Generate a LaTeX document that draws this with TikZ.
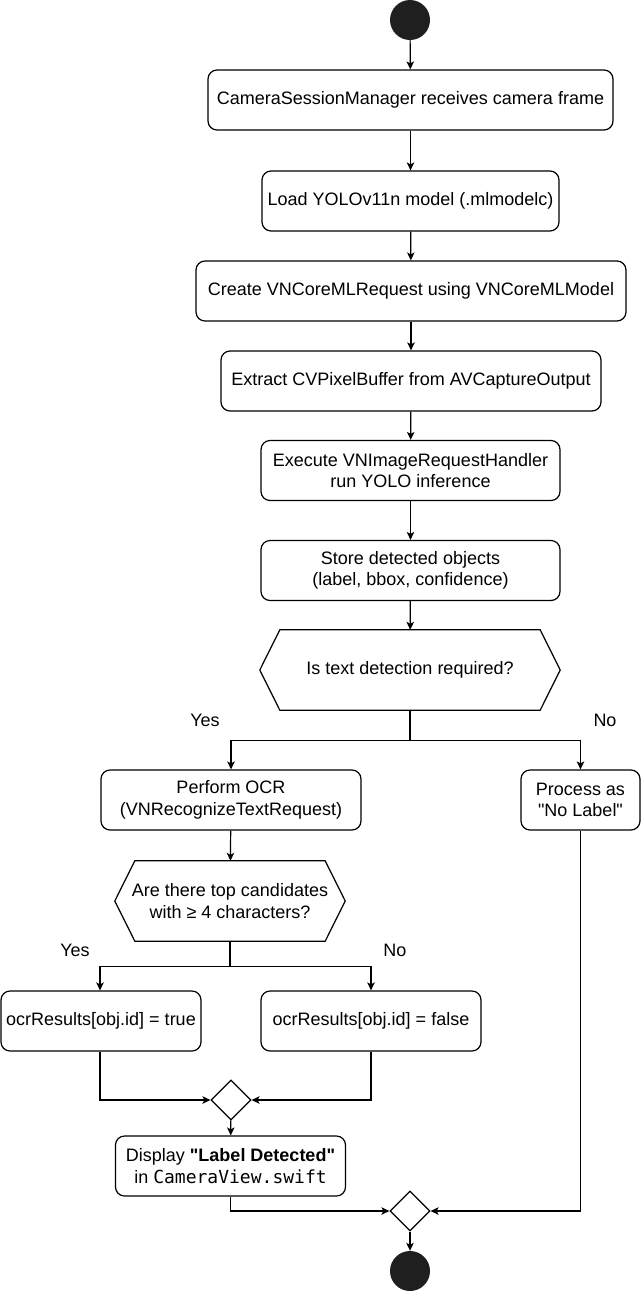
\documentclass[tikz,border=0pt]{standalone}
\usepackage{fontspec}
\setmainfont{Liberation Sans}[Ligatures=TeXOff]
\setmonofont{DejaVu Sans Mono}
\usetikzlibrary{shapes.geometric,arrows.meta}

\begin{document}
\begin{tikzpicture}[x=1pt,y=-1pt,
    every node/.style={font=\fontsize{18}{21.6}\selectfont},
    action/.style={draw, line width=1.2pt, rounded corners=9pt, minimum height=60pt, align=center, inner sep=2pt},
    question/.style={rectangle, minimum height=80pt, align=center, inner sep=2pt},
    merge/.style={draw, diamond, line width=1.2pt, minimum size=40pt, inner sep=0pt},
    terminal/.style={circle, fill=black!88, minimum size=40pt, inner sep=0pt},
    flow/.style={line width=1.2pt, -{Stealth[length=8pt,width=7.5pt,inset=2pt]}},
    wire/.style={line width=1.2pt}]

    % Fix the page to the size of the reference
    \useasboundingbox (0,0) rectangle (641,1291);

    % Start of the activity
    \node[terminal] (start) at (410,20) {};

    % Main column of steps
    \node[action, minimum width=405pt] (frame) at (410.5,100) {CameraSessionManager receives camera frame};
    \node[action, minimum width=297pt] (model) at (410.5,201) {Load YOLOv11n model (.mlmodelc)};
    \node[action, minimum width=430pt] (request) at (411,291) {Create VNCoreMLRequest using VNCoreMLModel};
    \node[action, minimum width=380pt] (buffer) at (411,381) {Extract CVPixelBuffer from AVCaptureOutput};
    \node[action, minimum width=299pt] (handler) at (410.5,470.5) {Execute VNImageRequestHandler\\run YOLO inference};
    \node[action, minimum width=299pt] (store) at (410.5,570.5) {Store detected objects\\(label, bbox, confidence)};

    % First decision, drawn as a hexagon round the node
    \node[question, minimum width=300pt] (textq) at (410,670) {Is text detection required?};
    \draw[wire] (textq.west) -- ([xshift=20pt]textq.north west) -- ([xshift=-20pt]textq.north east)
        -- (textq.east) -- ([xshift=-20pt]textq.south east) -- ([xshift=20pt]textq.south west) -- cycle;

    % Branch labels
    \node (yes1) at (205,720) {Yes};
    \node (no1) at (605,720) {No};

    % The two branches
    \node[action, minimum width=260pt] (ocr) at (231,800) {Perform OCR\\(VNRecognizeTextRequest)};
    \node[action, minimum width=119pt] (nolabel) at (580.5,800) {Process as\\"No Label"};

    % Second decision
    \node[question, minimum width=230pt] (lenq) at (230,901) {Are there top candidates\\with ≥ 4 characters?};
    \draw[wire] (lenq.west) -- ([xshift=20pt]lenq.north west) -- ([xshift=-20pt]lenq.north east)
        -- (lenq.east) -- ([xshift=-20pt]lenq.south east) -- ([xshift=20pt]lenq.south west) -- cycle;

    \node (yes2) at (75,950) {Yes};
    \node (no2) at (395,950) {No};

    % OCR results
    \node[action, minimum width=200pt] (okbox) at (101,1021) {ocrResults[obj.id] = true};
    \node[action, minimum width=220pt] (failbox) at (371,1021) {ocrResults[obj.id] = false};

    % Merge points, display and end
    \node[merge] (merge1) at (231,1100) {};
    \node[action, minimum width=230pt] (display) at (230.5,1166) {Display \textbf{"Label Detected"}\\in \texttt{CameraView.swift}};
    \node[merge] (merge2) at (410,1211) {};
    \node[terminal] (end) at (410,1271) {};

    % Connectors down the main column
    \draw[flow] (start) -- (frame);
    \draw[flow] (frame) -- (model);
    \draw[flow] (model) -- (request);
    \draw[flow] (request) -- (buffer);
    \draw[flow] (buffer) -- (handler);
    \draw[flow] (handler) -- (store);
    \draw[flow] (store) -- (textq);

    % Split after the first decision
    \draw[flow] (textq.south) -- ++(0,30) -| (ocr.north);
    \draw[flow] (textq.south) -- ++(0,30) -| (nolabel.north);
    \draw[flow] (ocr) -- (lenq);

    % Split after the second decision
    \draw[flow] (lenq.south) -- ++(0,25) -| ([xshift=-1pt]okbox.north);
    \draw[flow] (lenq.south) -- ++(0,25) -| (failbox.north);

    % Joins
    \draw[flow] ([xshift=-1pt]okbox.south) |- (merge1.west);
    \draw[flow] (failbox.south) |- (merge1.east);
    \draw[flow] (merge1) -- (display);
    \draw[flow] (display.south) |- (merge2.west);
    \draw[flow] (nolabel.south) |- (merge2.east);
    \draw[flow] (merge2) -- (end);

\end{tikzpicture}
\end{document}
